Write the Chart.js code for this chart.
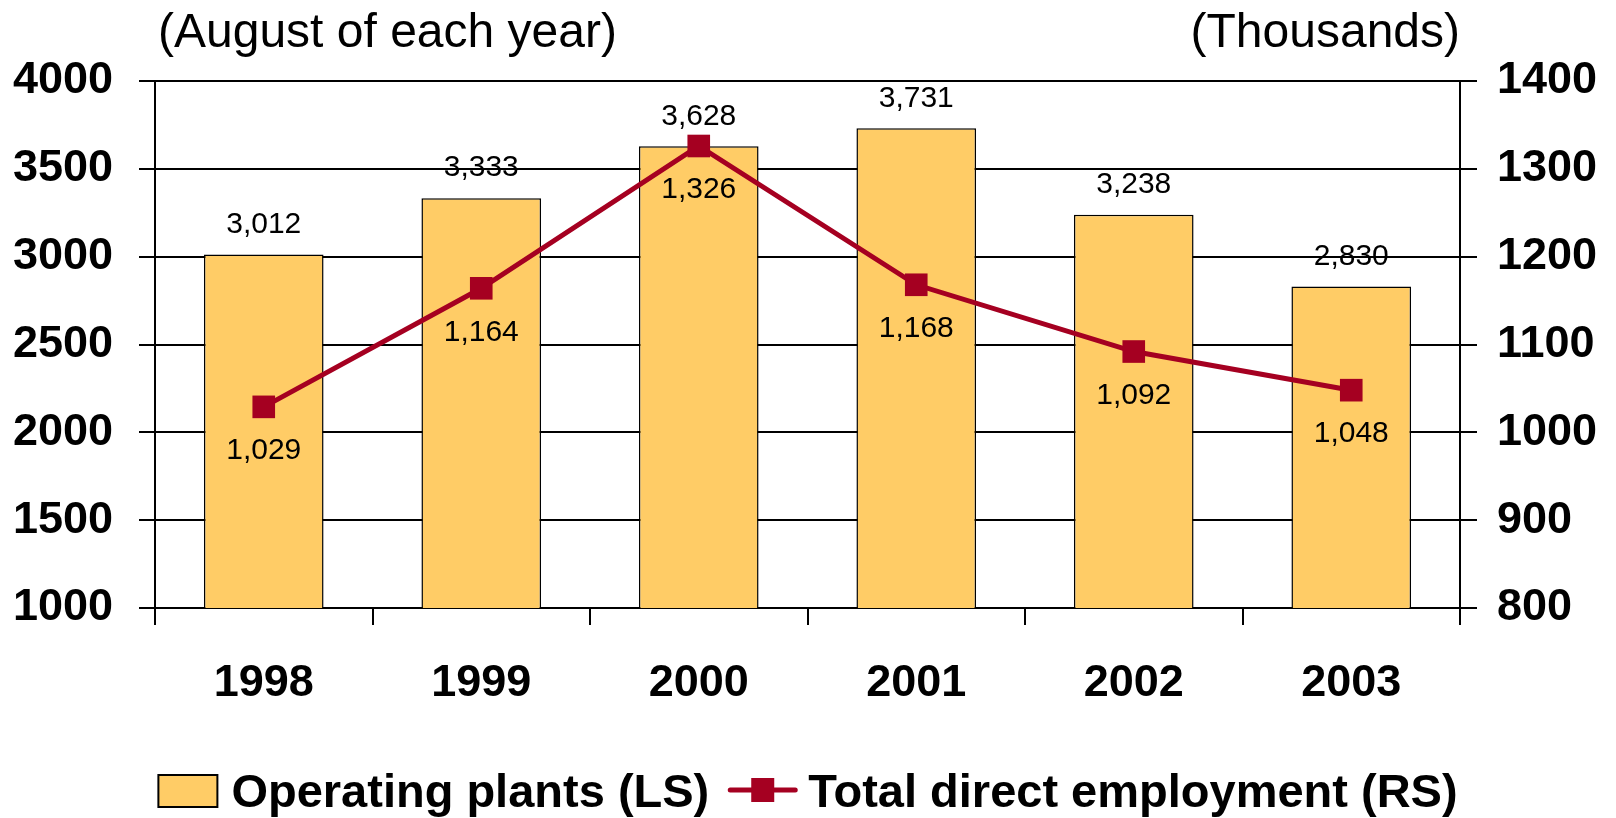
<!DOCTYPE html>
<html>
<head>
<meta charset="utf-8">
<script src="https://cdn.jsdelivr.net/npm/chart.js@4"></script>
<style>
  html, body { margin: 0; padding: 0; background: #fff; }
  #wrap { width: 1616px; height: 818px; }
</style>
</head>
<body>
<div id="wrap"><canvas id="plantChart" width="1616" height="818"></canvas></div>
<script>
// data
const years = ["1998", "1999", "2000", "2001", "2002", "2003"];
const operatingPlants = [3012, 3333, 3628, 3731, 3238, 2830];
const directEmployment = [1029, 1164, 1326, 1168, 1092, 1048];
const leftTitle = "(August of each year)";
const rightTitle = "(Thousands)";
const legendLabels = ["Operating plants (LS)", "Total direct employment (RS)"];

const BAR_COLOR = "#FFCC66";
const LINE_COLOR = "#A50021";
const FONT = "'Liberation Sans', Arial, sans-serif";

// value labels above bars / below line points
const valueLabels = {
    id: "valueLabels",
    afterDatasetsDraw(chart) {
        const ctx = chart.ctx;
        ctx.save();
        ctx.font = "30px " + FONT;
        ctx.fillStyle = "#000";
        ctx.textAlign = "center";
        ctx.textBaseline = "middle";
        chart.getDatasetMeta(0).data.forEach((el, i) => {
            ctx.fillText(operatingPlants[i].toLocaleString("en-US"), el.x, el.y - 30);
        });
        chart.getDatasetMeta(1).data.forEach((el, i) => {
            ctx.fillText(directEmployment[i].toLocaleString("en-US"), el.x, el.y + 44);
        });
        ctx.restore();
    }
};

// unit notes above the plot and the legend at the bottom
const extras = {
    id: "extras",
    afterDraw(chart) {
        const ctx = chart.ctx;
        const area = chart.chartArea;
        ctx.save();
        ctx.fillStyle = "#000";
        ctx.textBaseline = "alphabetic";
        ctx.font = "48px " + FONT;
        ctx.textAlign = "left";
        ctx.fillText(leftTitle, area.left + 3, 47);
        ctx.textAlign = "right";
        ctx.fillText(rightTitle, area.right, 47);

        // legend
        ctx.font = "bold 47px " + FONT;
        const w1 = ctx.measureText(legendLabels[0]).width;
        const w2 = ctx.measureText(legendLabels[1]).width;
        const total = 59 + 14 + w1 + 19 + 69 + 11 + w2;
        let x = (chart.width - total) / 2;
        const base = 807;
        const midY = 790;

        ctx.fillStyle = BAR_COLOR;
        ctx.fillRect(x, 775, 59, 32);
        ctx.strokeStyle = "#000";
        ctx.lineWidth = 2;
        ctx.strokeRect(x, 775, 59, 32);
        x += 59 + 14;
        ctx.fillStyle = "#000";
        ctx.textAlign = "left";
        ctx.fillText(legendLabels[0], x, base);
        x += w1 + 19;

        ctx.strokeStyle = LINE_COLOR;
        ctx.lineWidth = 5;
        ctx.lineCap = "round";
        ctx.beginPath();
        ctx.moveTo(x + 2, midY);
        ctx.lineTo(x + 67, midY);
        ctx.stroke();
        ctx.fillStyle = LINE_COLOR;
        ctx.fillRect(x + 34.5 - 11.5, midY - 12, 23, 24);
        x += 69 + 11;
        ctx.fillStyle = "#000";
        ctx.fillText(legendLabels[1], x, base);
        ctx.restore();
    }
};

const plainTick = v => String(v);

new Chart(document.getElementById("plantChart").getContext("2d"), {
    type: "bar",
    data: {
        labels: years,
        datasets: [{
            type: "bar",
            label: legendLabels[0],
            data: operatingPlants,
            backgroundColor: BAR_COLOR,
            borderColor: "#000",
            borderWidth: 1.5,
            barPercentage: 0.55,
            categoryPercentage: 1.0,
            yAxisID: "yLeft",
            order: 2
        }, {
            type: "line",
            label: legendLabels[1],
            data: directEmployment,
            borderColor: LINE_COLOR,
            backgroundColor: LINE_COLOR,
            borderWidth: 5,
            pointStyle: "rect",
            pointRadius: 16,
            pointHoverRadius: 16,
            pointBorderWidth: 0,
            pointBackgroundColor: LINE_COLOR,
            tension: 0,
            yAxisID: "yRight",
            order: 1
        }]
    },
    options: {
        responsive: false,
        animation: false,
        devicePixelRatio: 1,
        layout: { padding: { top: 81, left: 13, right: 19, bottom: 110 } },
        plugins: {
            legend: { display: false },
            tooltip: { enabled: false }
        },
        scales: {
            x: {
                offset: true,
                afterFit: s => { s.height = 100; },
                grid: {
                    offset: true,
                    drawOnChartArea: false,
                    color: "#000",
                    lineWidth: 2,
                    tickLength: 17
                },
                border: { color: "#000", width: 2 },
                ticks: {
                    color: "#000",
                    padding: 32,
                    font: { family: FONT, size: 45, weight: "bold" }
                }
            },
            yLeft: {
                position: "left",
                min: 1000,
                max: 4000,
                afterFit: s => { s.width = 142; },
                ticks: {
                    stepSize: 500,
                    color: "#000",
                    padding: 26,
                    callback: plainTick,
                    font: { family: FONT, size: 45, weight: "bold" }
                },
                grid: { color: "#000", lineWidth: 2, tickLength: 16 },
                border: { color: "#000", width: 2 }
            },
            yRight: {
                position: "right",
                min: 800,
                max: 1400,
                afterFit: s => { s.width = 137; },
                ticks: {
                    stepSize: 100,
                    color: "#000",
                    padding: 20,
                    callback: plainTick,
                    font: { family: FONT, size: 45, weight: "bold" }
                },
                grid: { drawOnChartArea: false, color: "#000", lineWidth: 2, tickLength: 17 },
                border: { color: "#000", width: 2 }
            }
        }
    },
    plugins: [valueLabels, extras]
});
</script>
</body>
</html>
